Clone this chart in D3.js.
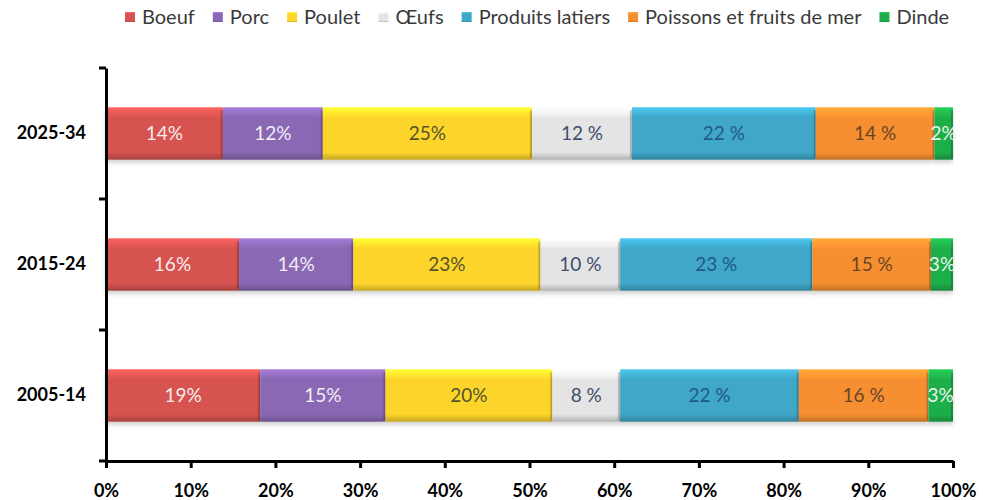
<!DOCTYPE html>
<html>
<head>
<meta charset="utf-8">
<script src="https://cdn.jsdelivr.net/npm/d3@7"></script>
<style>
  html, body { margin: 0; padding: 0; background: #fff; }
  svg { display: block; }
</style>
</head>
<body>
<svg id="chart" width="983" height="500"></svg>
<script>
// ---- Data ----
const categories = ["2025-34", "2015-24", "2005-14"];
const seriesNames = ["Boeuf", "Porc", "Poulet", "Œufs", "Produits latiers", "Poissons et fruits de mer", "Dinde"];
// shares (%) per category, in series order
const boeuf    = [13.8, 15.7, 18.2];
const porc     = [11.8, 13.5, 14.8];
const poulet   = [24.7, 22.1, 19.7];
const oeufs    = [11.8,  9.4,  8.0];
const laitiers = [21.7, 22.7, 21.1];
const poissons = [14.0, 14.0, 15.3];
const dinde    = [ 2.2,  2.6,  2.9];
// data labels as printed on the chart
const labels2025 = ["14%", "12%", "25%", "12 %", "22 %", "14 %", "2%"];
const labels2015 = ["16%", "14%", "23%", "10 %", "23 %", "15 %", "3%"];
const labels2005 = ["19%", "15%", "20%", "8 %", "22 %", "16 %", "3%"];
const xTicks = [0, 0.1, 0.2, 0.3, 0.4, 0.5, 0.6, 0.7, 0.8, 0.9, 1.0];

// ---- Styles ----
const colors = ["#d65350", "#8a68b4", "#fdd52b", "#e4e4e4", "#3fa7c8", "#f68f30", "#1fae4a"];
const labelColors = ["#f4eded", "#f1eef6", "#55532a", "#3f4d6e", "#1f5a84", "#6a4524", "#e9f6ec"];

const seriesData = [boeuf, porc, poulet, oeufs, laitiers, poissons, dinde];
const labelsData = [labels2025, labels2015, labels2005];
const table = categories.map((c, i) => {
  const row = { cat: c, idx: i };
  seriesNames.forEach((s, j) => row[s] = seriesData[j][i]);
  return row;
});

const svg = d3.select("#chart");
const margin = { top: 68, right: 30, bottom: 39, left: 106 };
const W = 983, H = 500;
const innerW = W - margin.left - margin.right;
const innerH = H - margin.top - margin.bottom;

const stack = d3.stack().keys(seriesNames).offset(d3.stackOffsetExpand);
const stacked = stack(table);

const x = d3.scaleLinear().domain([0, 1]).range([margin.left, margin.left + innerW]);
const y = d3.scaleBand().domain(categories).range([margin.top, margin.top + innerH]).paddingInner(0.6).paddingOuter(0.3);

// defs: gradients & shadow
const defs = svg.append("defs");
colors.forEach((c, i) => {
  const g = defs.append("linearGradient").attr("id", "grad" + i)
    .attr("x1", 0).attr("y1", 0).attr("x2", 0).attr("y2", 1);
  const cc = d3.color(c);
  g.append("stop").attr("offset", "0%").attr("stop-color", cc.brighter(0.5));
  g.append("stop").attr("offset", "14%").attr("stop-color", cc.brighter(0.15));
  g.append("stop").attr("offset", "20%").attr("stop-color", c);
  g.append("stop").attr("offset", "86%").attr("stop-color", c);
  g.append("stop").attr("offset", "100%").attr("stop-color", cc.darker(0.7));
});
const f = defs.append("filter").attr("id", "shadow").attr("x", "-5%").attr("y", "-20%").attr("width", "110%").attr("height", "160%");
f.append("feDropShadow").attr("dx", 0).attr("dy", 3).attr("stdDeviation", 2).attr("flood-color", "#000").attr("flood-opacity", 0.18);

// bars
const layers = svg.append("g").selectAll("g").data(stacked).join("g")
  .attr("fill", (d, i) => `url(#grad${i})`);

layers.selectAll("rect").data(d => d.map(v => ({ v, key: d.key }))).join("rect")
  .attr("x", d => x(d.v[0]))
  .attr("y", d => y(d.v.data.cat))
  .attr("width", d => x(d.v[1]) - x(d.v[0]))
  .attr("height", y.bandwidth())
  .attr("filter", "url(#shadow)");

// right-edge bevel shading
layers.selectAll("line.edge").data(d => d.map(v => v)).join("line")
  .attr("class", "edge")
  .attr("x1", d => x(d[1]) - 1).attr("x2", d => x(d[1]) - 1)
  .attr("y1", d => y(d.data.cat) + 3).attr("y2", d => y(d.data.cat) + y.bandwidth() - 2)
  .attr("stroke", "rgba(0,0,0,0.18)").attr("stroke-width", 2);

// labels
const lab = svg.append("g").attr("font-family", "Lato, 'Open Sans', sans-serif").attr("font-size", 19);
stacked.forEach((layer, si) => {
  layer.forEach((d) => {
    lab.append("text")
      .attr("x", (x(d[0]) + x(d[1])) / 2)
      .attr("y", y(d.data.cat) + y.bandwidth() / 2)
      .attr("dy", "0.35em")
      .attr("text-anchor", "middle")
      .attr("fill", labelColors[si])
      .text(labelsData[d.data.idx][si]);
  });
});

// x axis
const xAxis = svg.append("g")
  .attr("transform", `translate(0,${margin.top + innerH})`)
  .call(d3.axisBottom(x).tickValues(xTicks).tickFormat(d3.format(".0%")).tickSize(7).tickSizeOuter(0).tickPadding(16));
xAxis.select(".domain").attr("stroke", "#000").attr("stroke-width", 3);
xAxis.selectAll(".tick line").attr("stroke", "#000").attr("stroke-width", 3);
xAxis.selectAll(".tick text").attr("font-family", "Lato, sans-serif").attr("font-weight", "bold")
  .attr("font-size", 18).attr("fill", "#000");

// y axis
const yAxis = svg.append("g")
  .attr("transform", `translate(${margin.left},0)`)
  .call(d3.axisLeft(y).tickSize(0).tickPadding(20));
yAxis.select(".domain").attr("stroke", "#000").attr("stroke-width", 3);
yAxis.selectAll(".tick text").attr("font-family", "Lato, sans-serif").attr("font-weight", "bold")
  .attr("font-size", 18).attr("fill", "#000");
// category boundary ticks
const bounds = d3.range(categories.length + 1).map(i => margin.top + i * y.step());
yAxis.selectAll("line.bt").data(bounds).join("line").attr("class", "bt")
  .attr("x1", -7).attr("x2", 0)
  .attr("y1", d => d).attr("y2", d => d)
  .attr("stroke", "#000").attr("stroke-width", 3);

// legend
const legend = svg.append("g").attr("font-family", "Lato, 'Open Sans', sans-serif").attr("font-size", 20).attr("fill", "#3a3a3a");
let lx = 125;
seriesNames.forEach((s, i) => {
  const g = legend.append("g").attr("transform", `translate(${lx},0)`);
  g.append("rect").attr("x", 0).attr("y", 12).attr("width", 10).attr("height", 10)
    .attr("fill", `url(#grad${i})`);
  const t = g.append("text").attr("x", 17).attr("y", 17).attr("dy", "0.35em").text(s);
  lx += 17 + t.node().getComputedTextLength() + 18;
});
</script>
</body>
</html>
